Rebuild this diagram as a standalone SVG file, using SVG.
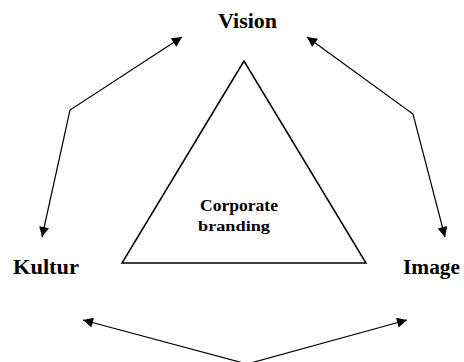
<svg xmlns="http://www.w3.org/2000/svg" width="464" height="362" viewBox="0 0 464 362">
<style>
.lbl{font-family:"Liberation Serif",serif;font-weight:bold;fill:#000}
.con{fill:none;stroke:#000;stroke-width:1.2}
</style>
<defs>
<marker id="ah" viewBox="0 0 10 10" refX="10" refY="5" markerWidth="11" markerHeight="10" markerUnits="userSpaceOnUse" orient="auto">
<path d="M0,0 L10,5 L0,10 z" fill="#000"/>
</marker>
<marker id="as" viewBox="0 0 10 10" refX="0" refY="5" markerWidth="11" markerHeight="10" markerUnits="userSpaceOnUse" orient="auto">
<path d="M10,0 L0,5 L10,10 z" fill="#000"/>
</marker>
</defs>
<rect width="464" height="362" fill="#fff"/>
<g id="vision"><text class="lbl" x="218" y="28" font-size="20" textLength="59" lengthAdjust="spacingAndGlyphs">Vision</text></g>
<g id="kultur"><text class="lbl" x="13" y="274" font-size="20" textLength="66" lengthAdjust="spacingAndGlyphs">Kultur</text></g>
<g id="image"><text class="lbl" x="403" y="274" font-size="20" textLength="57" lengthAdjust="spacingAndGlyphs">Image</text></g>
<g id="triangle">
<polygon points="244,61 122,263 366,263" fill="none" stroke="#000" stroke-width="1.5"/>
<text class="lbl" x="200" y="211" font-size="16" textLength="78" lengthAdjust="spacingAndGlyphs">Corporate</text>
<text class="lbl" x="198" y="231" font-size="15" textLength="72" lengthAdjust="spacingAndGlyphs">branding</text>
</g>
<g id="connectors">
<polyline class="con" points="182,37 70,110 42,237" marker-start="url(#as)" marker-end="url(#ah)"/>
<polyline class="con" points="307,37 413,114 445,237" marker-start="url(#as)" marker-end="url(#ah)"/>
<polyline class="con" points="83,320 247,364 407,320" marker-start="url(#as)" marker-end="url(#ah)"/>
</g>
</svg>
